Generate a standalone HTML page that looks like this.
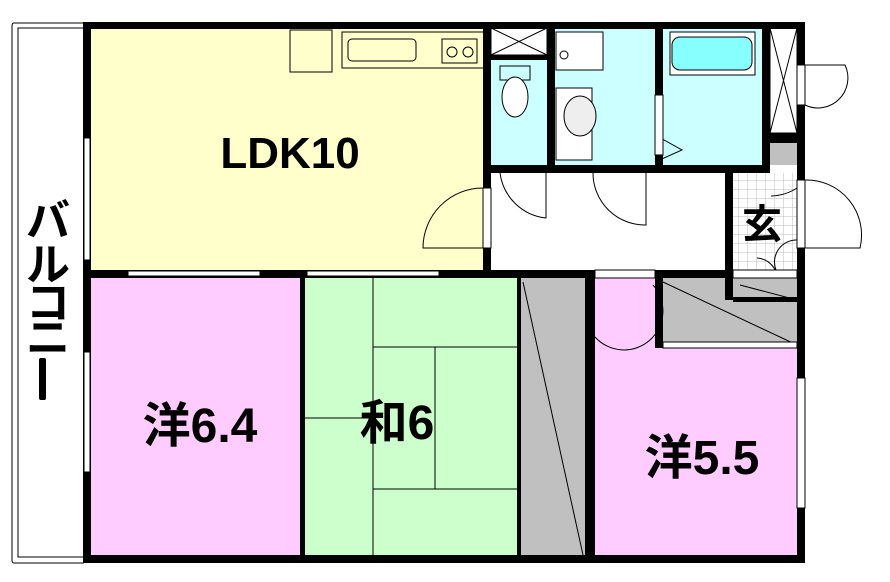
<!DOCTYPE html>
<html><head><meta charset="utf-8"><style>
body{margin:0;background:#fff}
svg{display:block}
text{font-family:"Liberation Sans","Noto Sans CJK JP",sans-serif;font-weight:bold;fill:#000}
</style></head><body>
<svg width="890" height="582" viewBox="0 0 890 582" xmlns="http://www.w3.org/2000/svg">
<defs>
<pattern id="tile" width="9" height="9" patternUnits="userSpaceOnUse"><rect width="9" height="9" fill="#fff"/><path d="M0 0H9M0 0V9" stroke="#bbb" stroke-width="1"/></pattern>
</defs>
<path d="M84 23H14Q12 23 12 26V560Q12 563 14 563H84" fill="none" stroke="#000"/>
<rect x="18" y="28" width="66" height="529" fill="none" stroke="#000"/>
<rect x="91" y="28" width="392" height="242" fill="#ffffcc"/>
<rect x="91" y="278" width="210" height="277" fill="#ffccff"/>
<rect x="305" y="278" width="212" height="277" fill="#ccffcc"/>
<rect x="520" y="278" width="65" height="277" fill="#c0c0c0"/>
<rect x="595" y="278" width="202" height="277" fill="#ffccff"/>
<rect x="663" y="278" width="134" height="67" fill="#c0c0c0"/>
<rect x="733" y="278" width="64" height="22" fill="#c0c0c0"/>
<rect x="491" y="60" width="56" height="105" fill="#ccffff"/>
<rect x="555" y="28" width="100" height="137" fill="#ccffff"/>
<rect x="663" y="28" width="99" height="137" fill="#ccffff"/>
<rect x="733" y="173" width="64" height="100" fill="url(#tile)"/>
<rect x="770" y="143" width="27" height="22" fill="#c0c0c0"/>
<rect x="491" y="28" width="56" height="27" fill="#fff" stroke="#000"/>
<path d="M491 28L547 55M547 28L491 55" stroke="#000"/>
<rect x="770" y="28" width="27" height="105" fill="#fff" stroke="#000"/>
<path d="M770 28L797 133M797 28L770 133" stroke="#000"/>
<g stroke="#000" stroke-width="1" fill="none">
<path d="M373 278V555M373 347H517M373 489H517M435 347V489M305 418H373"/>
<path d="M523 282L583 555"/>
<path d="M663 282L797 345M740 285L797 300"/>
<rect x="290" y="30" width="42" height="42"/>
<rect x="342" y="32" width="142" height="36"/>
<rect x="348" y="39" width="68" height="22" rx="4"/>
<rect x="442" y="39" width="35" height="24"/>
<circle cx="452" cy="52" r="5"/><circle cx="468" cy="52" r="5"/>
<rect x="500" y="66" width="30" height="14"/>
<ellipse cx="515" cy="97" rx="13" ry="20" fill="#fff"/>
<rect x="556" y="32" width="47" height="38" fill="#fff"/>
<circle cx="564" cy="55" r="4"/>
<rect x="556" y="88" width="36" height="72" fill="#fff"/>
<ellipse cx="580" cy="116" rx="16" ry="20" fill="#eee"/>
<rect x="670" y="32" width="85" height="43" fill="#fff"/>
<rect x="672" y="37" width="80" height="33" rx="8" fill="#88ffff"/>
<path d="M655 135L682 150L655 162"/>
<path d="M483 188A60 60 0 0 0 423 248H483"/>
<path d="M500 173A52 52 0 0 0 546 218V173"/>
<path d="M593 173A52 52 0 0 0 646 225V173"/>
<path d="M797 188A50 50 0 0 1 771 196"/>
<path d="M757 258A22 22 0 0 1 777 275M797 240A22 22 0 0 0 776 270"/>
<path d="M805 180A55 55 0 0 1 860 248H805"/>
<path d="M805 65H845A30 30 0 0 1 805 105"/>
<path d="M595 337A37 37 0 0 0 653 285"/>
</g>
<g fill="#000">
<rect x="83" y="22" width="722" height="7"/>
<rect x="83" y="22" width="8" height="541"/>
<rect x="83" y="555" width="722" height="8"/>
<rect x="797" y="22" width="8" height="541"/>
<rect x="83" y="270" width="650" height="8"/>
<rect x="483" y="28" width="8" height="245"/>
<rect x="547" y="28" width="8" height="145"/>
<rect x="655" y="28" width="8" height="145"/>
<rect x="762" y="28" width="8" height="145"/>
<rect x="770" y="133" width="27" height="10"/>
<rect x="491" y="55" width="56" height="5"/>
<rect x="491" y="165" width="279" height="8"/>
<rect x="725" y="173" width="8" height="127"/>
<rect x="733" y="297" width="64" height="5"/>
<rect x="585" y="278" width="10" height="277"/>
<rect x="517" y="278" width="4" height="277"/>
<rect x="655" y="278" width="8" height="70"/>
<rect x="300" y="278" width="5" height="277"/>
</g>
<g fill="#fff" stroke="#000" stroke-width="1">
<rect x="128" y="271" width="132" height="5"/>
<rect x="307" y="271" width="132" height="5"/>
<rect x="84" y="138" width="6" height="122"/>
<rect x="84" y="352" width="6" height="120"/>
<rect x="483" y="188" width="8" height="60"/>
<rect x="797" y="65" width="8" height="40"/>
<rect x="797" y="180" width="8" height="68"/>
<rect x="797" y="378" width="8" height="130"/>
<rect x="595" y="270" width="60" height="8"/>
<rect x="663" y="342" width="134" height="6"/>
<rect x="733" y="270" width="64" height="8"/>
</g>
<rect x="655" y="95" width="8" height="60" fill="#fff" stroke="#000"/>
<text x="290" y="168" font-size="44" text-anchor="middle">LDK10</text>
<text x="200" y="442" font-size="48" text-anchor="middle">洋6.4</text>
<text x="397" y="439" font-size="48" text-anchor="middle">和6</text>
<text x="702" y="474" font-size="48" text-anchor="middle">洋5.5</text>
<text x="762" y="238" font-size="40" text-anchor="middle">玄</text>
<g font-size="44" text-anchor="middle">
<text x="48" y="236">バ</text>
<text x="48" y="280">ル</text>
<text x="48" y="318">コ</text>
<text x="48" y="353">ニ</text>
</g>
<rect x="39" y="358" width="7" height="42" rx="2" fill="#000"/>
</svg>
</body></html>
